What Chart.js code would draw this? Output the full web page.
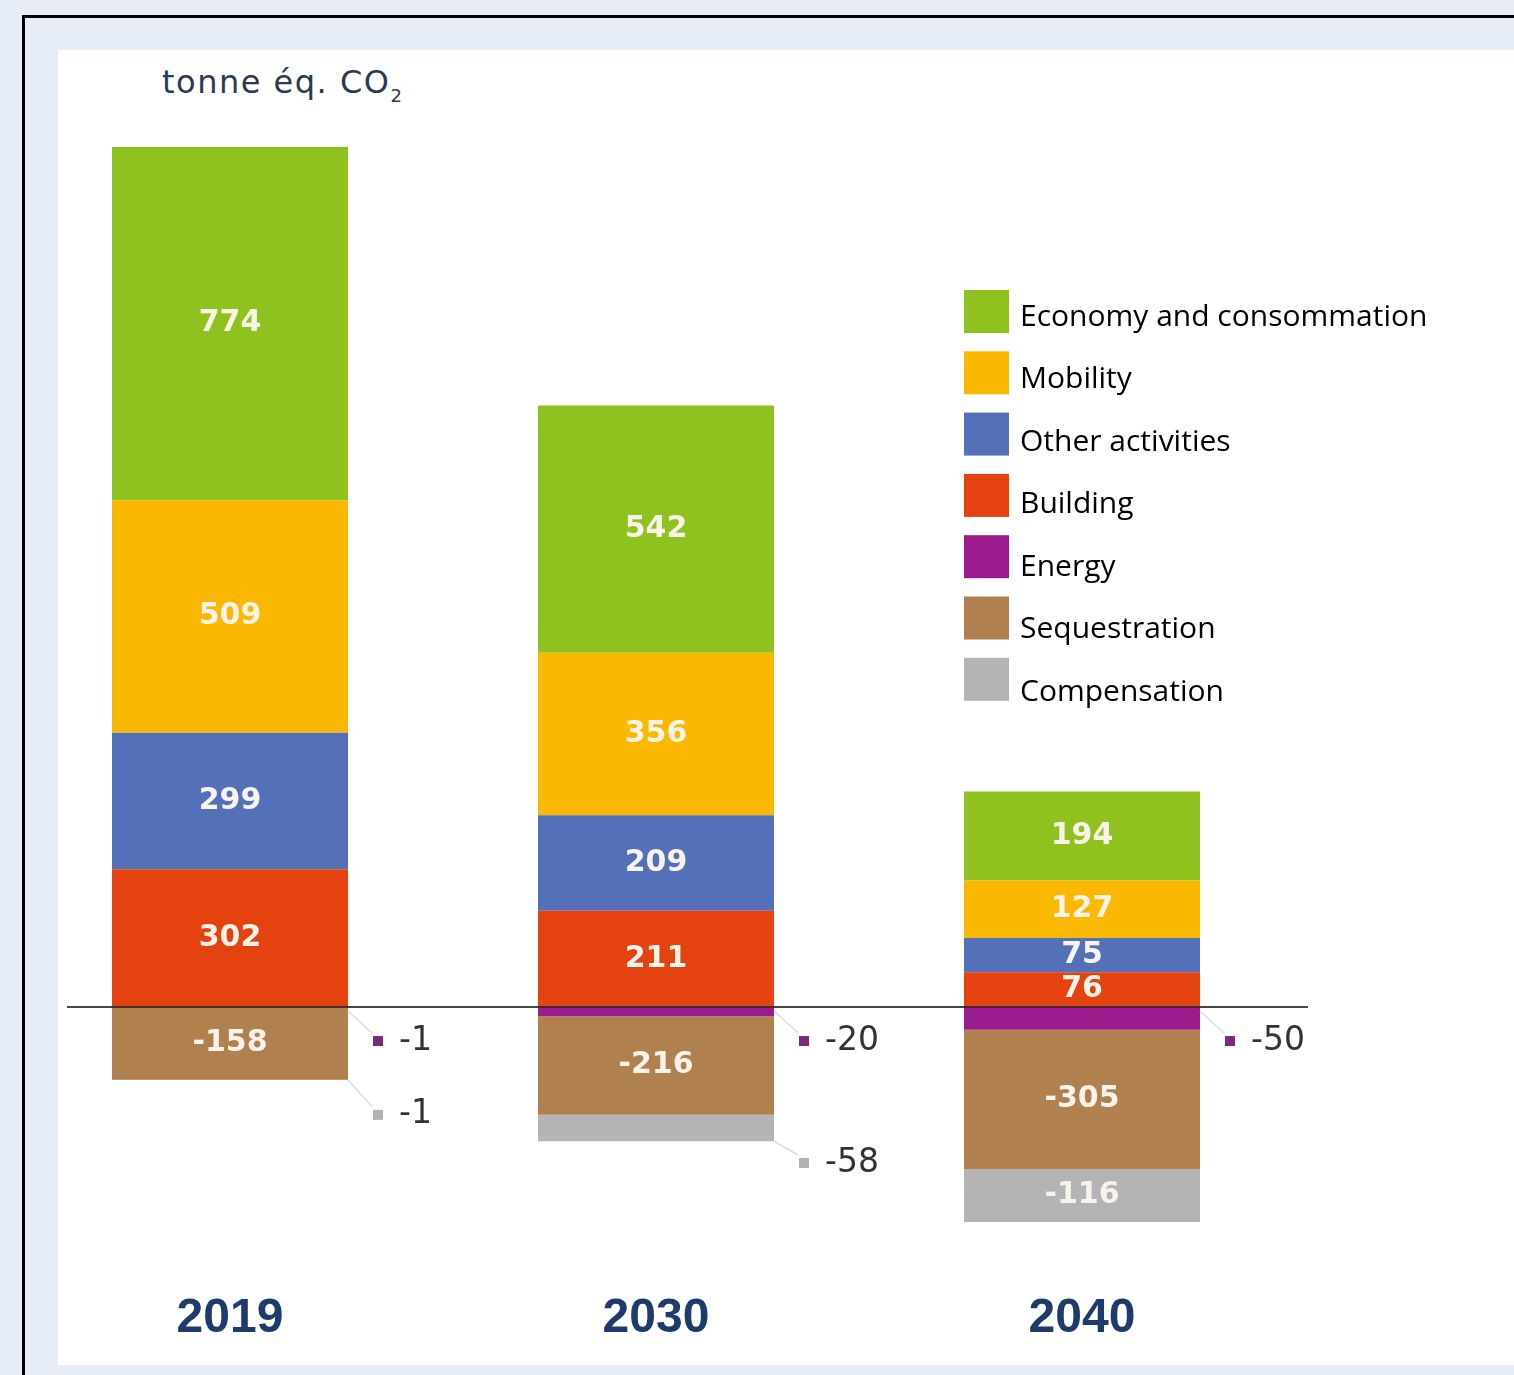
<!DOCTYPE html>
<html>
<head>
<meta charset="utf-8">
<script src="https://cdn.jsdelivr.net/npm/chart.js@4"></script>
<style>
  html, body { margin: 0; padding: 0; }
  body { width: 1514px; height: 1375px; background: #e6edf7; position: relative; overflow: hidden; }
  #frame { position: absolute; left: 22px; top: 15px; width: 1600px; height: 1500px; border-left: 3px solid #000; border-top: 3px solid #000; }
  #panel { position: absolute; left: 58px; top: 50px; width: 1500px; height: 1315px; background: #ffffff; }
  #unit { position: absolute; left: 162px; top: 63px; font-family: "DejaVu Sans", sans-serif; font-size: 32px; letter-spacing: 1.5px; color: #2b3954; white-space: nowrap; }
  #unit sub { font-size: 18px; vertical-align: -9px; letter-spacing: 0; }
  canvas { position: absolute; left: 0; top: 0; }
</style>
</head>
<body>
<div id="frame"></div>
<div id="panel"></div>
<div id="unit">tonne éq. CO<sub>2</sub></div>
<canvas id="c" width="1514" height="1375"></canvas>
<script>
// ---- data ----
const categories = ['2019', '2030', '2040'];
const economy = [774, 542, 194];
const mobility = [509, 356, 127];
const otherActivities = [299, 209, 75];
const building = [302, 211, 76];
const energy = [-1, -20, -50];
const sequestration = [-158, -216, -305];
const compensation = [-1, -58, -116];

const legendLabels = ['Economy and consommation', 'Mobility', 'Other activities', 'Building', 'Energy', 'Sequestration', 'Compensation'];
const colors = {
  'Economy and consommation': '#8fc21f',
  'Mobility': '#fbb800',
  'Other activities': '#5470b9',
  'Building': '#e4420e',
  'Energy': '#9c1c8e',
  'Sequestration': '#b0804f',
  'Compensation': '#b4b4b4'
};
const seriesData = {
  'Economy and consommation': economy,
  'Mobility': mobility,
  'Other activities': otherActivities,
  'Building': building,
  'Energy': energy,
  'Sequestration': sequestration,
  'Compensation': compensation
};
// stacking order (from zero outward)
const stackOrder = ['Building', 'Other activities', 'Mobility', 'Economy and consommation', 'Energy', 'Sequestration', 'Compensation'];

const datasets = stackOrder.map(name => ({
  label: name,
  data: seriesData[name],
  backgroundColor: colors[name],
  borderWidth: 0,
  categoryPercentage: 1,
  barPercentage: 0.554
}));

const extraPlugin = {
  id: 'extra',
  afterDatasetsDraw(chart) {
    const ctx = chart.ctx;
    const y = chart.scales.y;
    const zero = y.getPixelForValue(0);
    ctx.save();
    // zero line
    ctx.strokeStyle = 'rgba(40,40,40,0.85)';
    ctx.lineWidth = 2;
    ctx.beginPath();
    ctx.moveTo(67, zero);
    ctx.lineTo(1308, zero);
    ctx.stroke();

    chart.data.datasets.forEach((ds, di) => {
      const meta = chart.getDatasetMeta(di);
      meta.data.forEach((bar, i) => {
        const v = ds.data[i];
        const top = Math.min(bar.y, bar.base);
        const bottom = Math.max(bar.y, bar.base);
        const h = bottom - top;
        if (v < 0 && h < 40) {
          // external label
          const right = bar.x + bar.width / 2;
          let ly;
          if (ds.label === 'Energy') ly = zero + 34;
          else ly = (top + bottom) / 2 + 35;
          const sx = right + 30;
          ctx.strokeStyle = '#dcdcdc';
          ctx.lineWidth = 1.5;
          ctx.beginPath();
          if (ds.label === 'Energy') ctx.moveTo(right, zero + 4);
          else ctx.moveTo(right, bottom);
          ctx.lineTo(sx - 6, ly - 8);
          ctx.stroke();
          ctx.fillStyle = ds.label === 'Energy' ? '#7d2a7d' : '#b2b2b2';
          ctx.fillRect(sx - 5, ly - 5, 10, 10);
          ctx.fillStyle = '#333333';
          ctx.font = '33px "DejaVu Sans"';
          ctx.textAlign = 'left';
          ctx.textBaseline = 'middle';
          ctx.fillText(String(v), sx + 21, ly);
        } else {
          ctx.fillStyle = '#f8f3ea';
          ctx.font = '600 30px "DejaVu Sans"';
          ctx.textAlign = 'center';
          ctx.textBaseline = 'middle';
          ctx.fillText(String(v), bar.x, (top + bottom) / 2);
        }
      });
    });

    // legend
    legendLabels.forEach((name, k) => {
      const by = 290 + k * 61.3;
      ctx.fillStyle = colors[name];
      ctx.fillRect(964, by, 45, 43);
      ctx.fillStyle = '#000000';
      ctx.font = '30px "Open Sans"';
      ctx.textAlign = 'left';
      ctx.textBaseline = 'middle';
      ctx.fillText(name, 1020, 317 + k * 62.5);
    });
    ctx.restore();
  }
};

new Chart(document.getElementById('c'), {
  type: 'bar',
  data: { labels: categories, datasets: datasets },
  options: {
    responsive: false,
    animation: false,
    devicePixelRatio: 1,
    layout: { padding: { left: 17, right: 219, top: 147, bottom: 18 } },
    plugins: { legend: { display: false }, tooltip: { enabled: false } },
    scales: {
      x: {
        stacked: true,
        grid: { display: false, drawTicks: false },
        border: { display: false },
        ticks: { color: '#1f3b6c', font: { family: 'Liberation Sans', size: 48, weight: 'bold' }, padding: 9 }
      },
      y: {
        stacked: true,
        display: false,
        min: -601,
        max: 1884
      }
    }
  },
  plugins: [extraPlugin]
});
</script>
</body>
</html>
